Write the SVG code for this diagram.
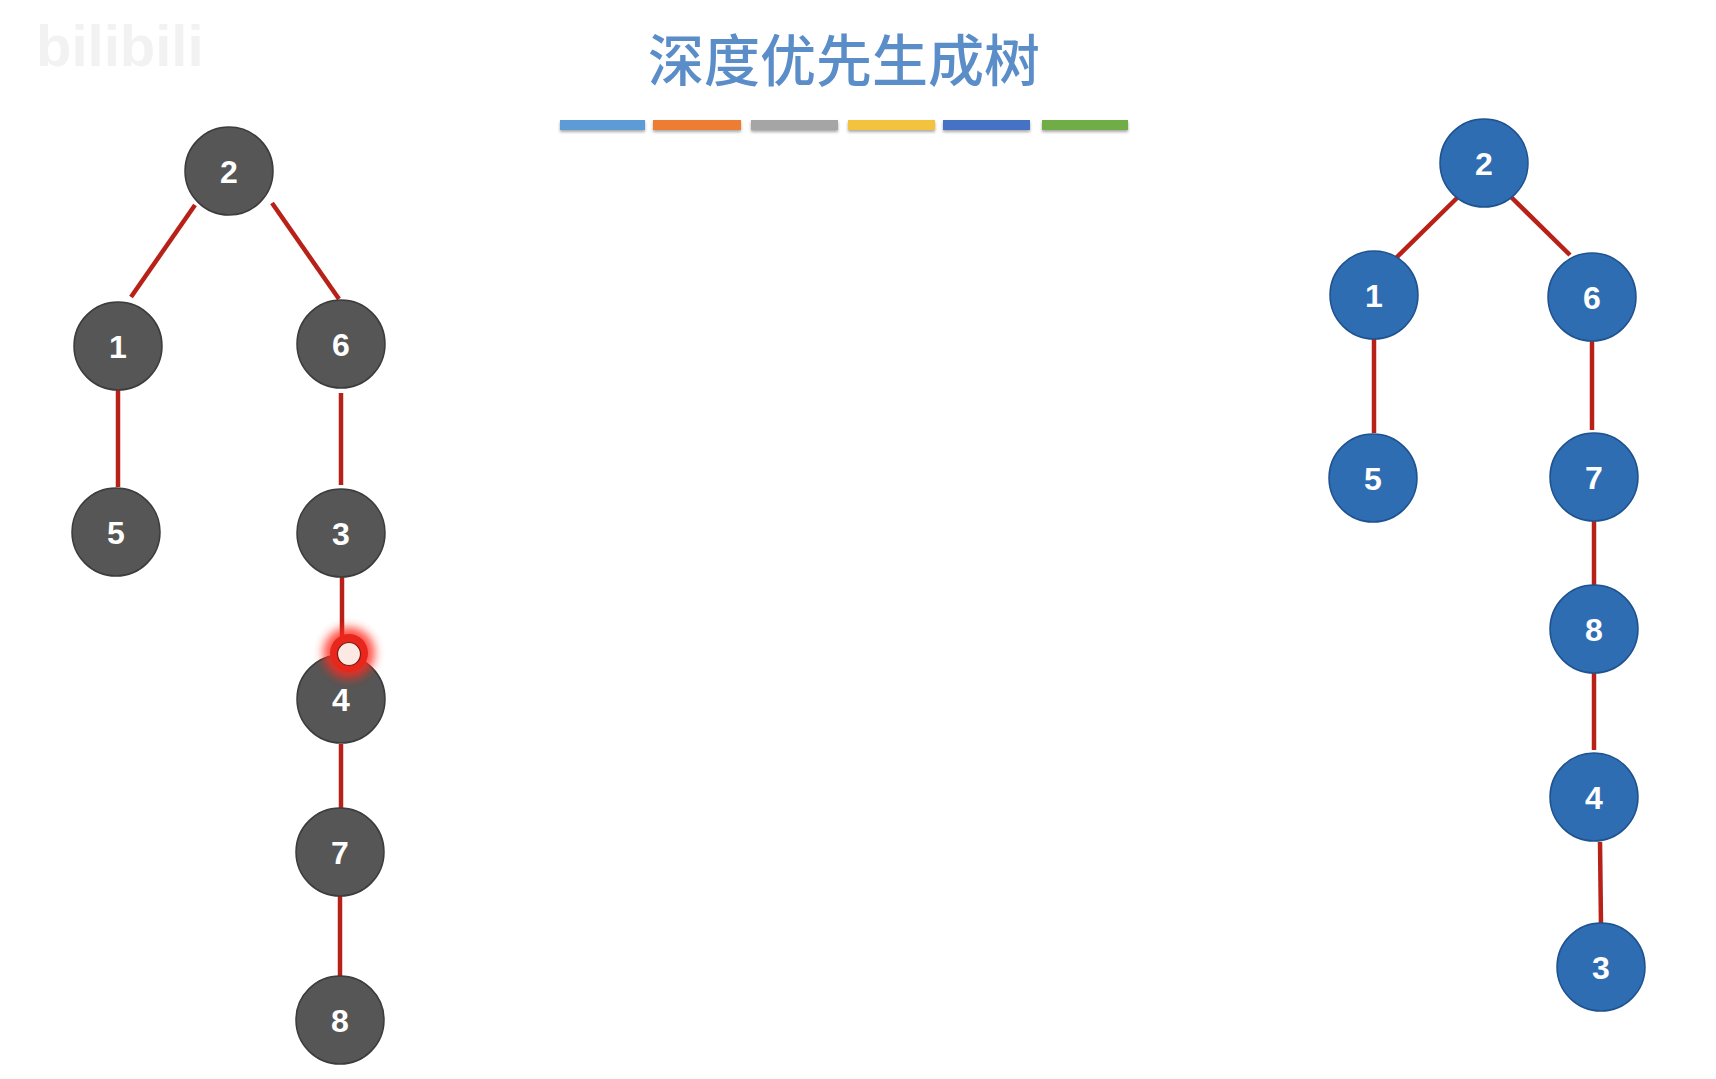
<svg xmlns="http://www.w3.org/2000/svg" width="1716" height="1079" viewBox="0 0 1716 1079">
<style>
.g circle{fill:#565656;stroke:#3c3c3c;stroke-width:1.5}
.b circle{fill:#2f6db3;stroke:#1e5390;stroke-width:1.5}
.node text{font-family:"Liberation Sans",Arial,sans-serif;font-weight:bold;font-size:32px;fill:#ffffff;text-anchor:middle}
.edge{stroke:#b82117;stroke-width:4.5;stroke-linecap:butt;fill:none}
</style>
<defs>
<filter id="sh" x="-10%" y="-50%" width="120%" height="250%">
<feGaussianBlur in="SourceAlpha" stdDeviation="1.5"/>
<feOffset dy="2" result="o"/>
<feComponentTransfer><feFuncA type="linear" slope="0.35"/></feComponentTransfer>
<feMerge><feMergeNode/><feMergeNode in="SourceGraphic"/></feMerge>
</filter>
<filter id="glow" x="-100%" y="-100%" width="300%" height="300%">
<feGaussianBlur stdDeviation="5"/>
</filter>
</defs>
<rect width="1716" height="1079" fill="#ffffff"/>
<text x="36" y="66" font-family="'Liberation Sans',Arial,sans-serif" font-weight="bold" font-size="58" fill="#f2f2f2">bilibili</text>
<g id="title">
<text x="844" y="81" font-family="'Noto Sans CJK SC','Noto Sans',sans-serif" font-size="56" font-weight="500" fill="#5b8ec8" text-anchor="middle">深度优先生成树</text>
<g filter="url(#sh)">
<rect x="560" y="120" width="85" height="10" fill="#5b9bd5"/>
<rect x="653" y="120" width="88" height="10" fill="#ed7d31"/>
<rect x="751" y="120" width="87" height="10" fill="#a5a5a5"/>
<rect x="848" y="120" width="87" height="10" fill="#f3c33c"/>
<rect x="943" y="120" width="87" height="10" fill="#4472c4"/>
<rect x="1042" y="120" width="86" height="10" fill="#70ad47"/>
</g>
</g>
<g id="connectors">
<line class="edge" x1="195" y1="205" x2="131" y2="297"/>
<line class="edge" x1="272" y1="203" x2="339" y2="299"/>
<line class="edge" x1="118" y1="390" x2="118" y2="487"/>
<line class="edge" x1="341" y1="393" x2="341" y2="485"/>
<line class="edge" x1="342" y1="577" x2="342" y2="650"/>
<line class="edge" x1="341" y1="744" x2="341" y2="810"/>
<line class="edge" x1="340" y1="896" x2="340" y2="978"/>
<line class="edge" x1="1457" y1="198" x2="1396" y2="258"/>
<line class="edge" x1="1509" y1="195" x2="1570" y2="255"/>
<line class="edge" x1="1374" y1="339" x2="1374" y2="433"/>
<line class="edge" x1="1592" y1="341" x2="1592" y2="430"/>
<line class="edge" x1="1594" y1="521" x2="1594" y2="588"/>
<line class="edge" x1="1594" y1="671" x2="1594" y2="750"/>
<line class="edge" x1="1600" y1="842" x2="1601" y2="925"/>
</g>
<g id="left-tree" class="g">
<g id="L2" class="node"><circle cx="229" cy="171" r="44"/><text x="229" y="183">2</text></g>
<g id="L1" class="node"><circle cx="118" cy="346" r="44"/><text x="118" y="358">1</text></g>
<g id="L6" class="node"><circle cx="341" cy="344" r="44"/><text x="341" y="356">6</text></g>
<g id="L5" class="node"><circle cx="116" cy="532" r="44"/><text x="116" y="544">5</text></g>
<g id="L3" class="node"><circle cx="341" cy="533" r="44"/><text x="341" y="545">3</text></g>
<g id="L4" class="node"><circle cx="341" cy="699" r="44"/><text x="341" y="711">4</text></g>
<g id="L7" class="node"><circle cx="340" cy="852" r="44"/><text x="340" y="864">7</text></g>
<g id="L8" class="node"><circle cx="340" cy="1020" r="44"/><text x="340" y="1032">8</text></g>
</g>
<g id="right-tree" class="b">
<g id="R2" class="node"><circle cx="1484" cy="163" r="44"/><text x="1484" y="175">2</text></g>
<g id="R1" class="node"><circle cx="1374" cy="295" r="44"/><text x="1374" y="307">1</text></g>
<g id="R6" class="node"><circle cx="1592" cy="297" r="44"/><text x="1592" y="309">6</text></g>
<g id="R5" class="node"><circle cx="1373" cy="478" r="44"/><text x="1373" y="490">5</text></g>
<g id="R7" class="node"><circle cx="1594" cy="477" r="44"/><text x="1594" y="489">7</text></g>
<g id="R8" class="node"><circle cx="1594" cy="629" r="44"/><text x="1594" y="641">8</text></g>
<g id="R4" class="node"><circle cx="1594" cy="797" r="44"/><text x="1594" y="809">4</text></g>
<g id="R3" class="node"><circle cx="1601" cy="967" r="44"/><text x="1601" y="979">3</text></g>
</g>
<g id="cursor">
<circle cx="349" cy="653" r="26" fill="#ff2a1a" opacity="0.8" filter="url(#glow)"/>
<circle cx="349" cy="653" r="19" fill="#e8261b"/>
<circle cx="349" cy="654" r="11.5" fill="#fde9e4" stroke="#7a1a12" stroke-width="1.2"/>
</g>
</svg>
